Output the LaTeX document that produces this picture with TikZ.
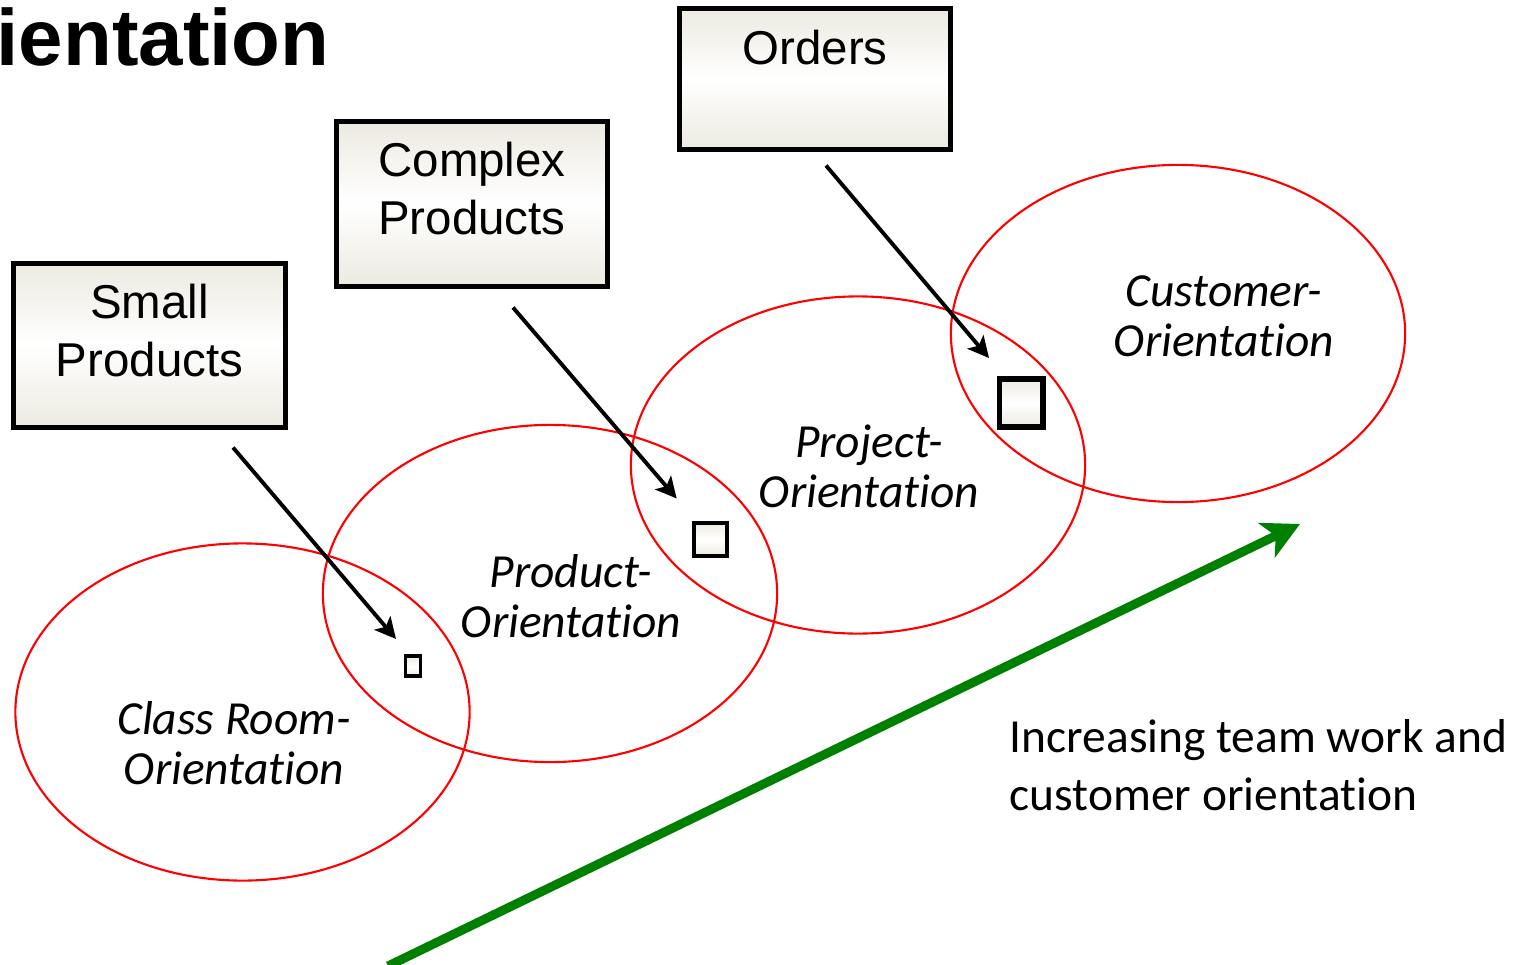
\documentclass[tikz,border=0pt]{standalone}
\usepackage{fontspec}
\setmainfont{Liberation Sans}
\newfontfamily\calibri[RawFeature={-liga;-clig;-calt;-dlig}]{Carlito}
\usetikzlibrary{arrows.meta,shapes.geometric}
\definecolor{boxbeige}{RGB}{236,234,224}
\definecolor{trendgreen}{RGB}{0,128,0}

\begin{document}
\begin{tikzpicture}[x=0.01cm,y=-0.01cm,
    prodbox/.style={draw,line width=1.4pt,top color=boxbeige,bottom color=boxbeige,middle color=white,inner sep=0pt},
    boxtext/.style={anchor=north,inner sep=0pt,align=center,font=\fontsize{13.5}{16.5}\selectfont},
    orient/.style={draw=red,line width=0.6pt,ellipse,minimum width=4.54cm,minimum height=3.37cm,inner sep=0pt},
    orienttext/.style={align=center,inner sep=0pt,font=\calibri\itshape\fontsize{13.5}{14.2}\selectfont},
    pointer/.style={line width=1.1pt,-{Stealth[length=0.21cm,width=0.21cm,inset=0.05cm]}}]
  \useasboundingbox (0,0) rectangle (1519,964);

  % title, cut at the left edge
  \node[anchor=base west,inner sep=0pt,font=\bfseries\fontsize{22.7}{27}\selectfont] (title) at (-4,66) {ientation};

  % the four orientations
  \node[orient] (classroom) at (242.5,712) {};
  \node[orient] (product) at (550,593.5) {};
  \node[orient] (project) at (858,465) {};
  \node[orient] (customer) at (1178,333.5) {};

  \node[orienttext] (classroom-t) at (234,743) {Class Room-\\Orientation};
  \node[orienttext] (product-t) at (571,596) {Product-\\Orientation};
  \node[orienttext] (project-t) at (869,466) {Project-\\Orientation};
  \node[orienttext] (customer-t) at (1224,316) {Customer-\\Orientation};

  % growing squares
  \node[prodbox,line width=1.1pt,minimum width=0.15cm,minimum height=0.2cm] (sq1) at (413,666) {};
  \node[prodbox,line width=1.1pt,minimum width=0.33cm,minimum height=0.33cm] (sq2) at (710.7,539.5) {};
  \node[prodbox,line width=1.7pt,minimum width=0.43cm,minimum height=0.48cm] (sq3) at (1021,403) {};

  % the boxes
  \node[prodbox,minimum width=2.72cm,minimum height=1.64cm] (small) at (149.5,345.5) {};
  \node[prodbox,minimum width=2.71cm,minimum height=1.65cm] (complex) at (472,204) {};
  \node[prodbox,minimum width=2.71cm,minimum height=1.41cm] (orders) at (815,79) {};

  \node[boxtext] (small-t) at ([yshift=-0.22cm]small.north) {Small\\Products};
  \node[boxtext] (complex-t) at ([yshift=-0.22cm]complex.north) {Complex\\Products};
  \node[boxtext] (orders-t) at ([yshift=-0.23cm]orders.north) {Orders};

  \begin{scope}[pointer]
    \draw ([shift={(83.5,17.5)}]small.south) -- ([shift={(-17,-27)}]sq1.center);
    \draw ([shift={(41,18.5)}]complex.south) -- ([shift={(-34,-41)}]sq2.center);
    \draw ([shift={(11,13.5)}]orders.south) -- ([shift={(-32,-45)}]sq3.center);
  \end{scope}

  % trend
  \coordinate (trend-start) at (388,966);
  \coordinate (trend-end) at (1300,524);
  \draw[trendgreen,line width=0.09cm,-{Stealth[length=0.37cm,width=0.38cm,inset=0.1cm]}] (trend-start) -- (trend-end);

  \node[anchor=north west,inner sep=0pt,align=left,font=\calibri\fontsize{13.5}{16.5}\selectfont] (trend-t) at (1009,719) {Increasing team work and\\customer orientation};
\end{tikzpicture}
\end{document}
